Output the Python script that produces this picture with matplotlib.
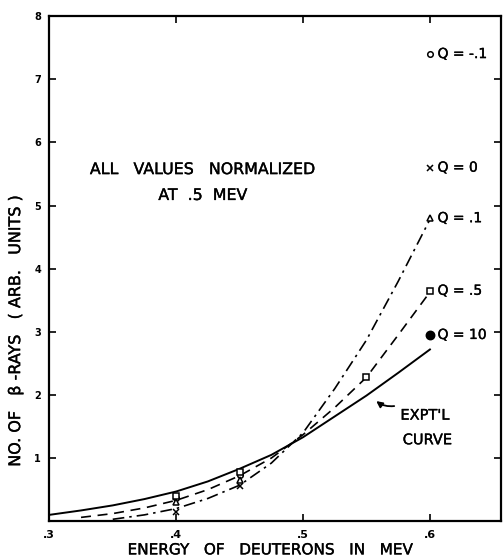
import matplotlib
matplotlib.use("Agg")
import matplotlib.pyplot as plt
import matplotlib.patheffects as pe

# energy of deuterons (MeV) and normalized beta-ray yields
expt_x = [0.30, 0.325, 0.35, 0.375, 0.40, 0.425, 0.45, 0.475, 0.50, 0.525, 0.55, 0.575, 0.60]
expt_y = [0.10, 0.17, 0.25, 0.35, 0.47, 0.63, 0.83, 1.05, 1.33, 1.66, 1.99, 2.35, 2.72]

q05_x = [0.325, 0.35, 0.375, 0.40, 0.425, 0.45, 0.475, 0.50, 0.525, 0.55, 0.575, 0.60]
q05_y = [0.06, 0.12, 0.21, 0.33, 0.50, 0.72, 1.00, 1.37, 1.80, 2.28, 2.95, 3.63]

q01_x = [0.35, 0.375, 0.40, 0.425, 0.45, 0.475, 0.50, 0.525, 0.55, 0.575, 0.60]
q01_y = [0.03, 0.10, 0.20, 0.36, 0.57, 0.92, 1.40, 2.10, 2.87, 3.80, 4.78]

# calculated points for each Q
q_labels = ["Q = -.1", "Q = 0", "Q = .1", "Q = .5", "Q = 10"]
q_markers = ["o", "x", "^", "s", "o"]
q_filled = [False, True, False, False, True]
q_at_06 = [7.40, 5.60, 4.80, 3.65, 2.95]
q_at_04 = [0.36, 0.15, 0.30, 0.40, None]
q_at_045 = [0.73, 0.55, 0.66, 0.78, None]
q05_extra_x = [0.55]
q05_extra_y = [2.28]

ink = [pe.withStroke(linewidth=0.25, foreground="black")]

fig = plt.figure(figsize=(5.03, 5.58), dpi=100)
ax = fig.add_axes([0.098, 0.066, 0.898, 0.905])

ax.plot(expt_x, expt_y, color="black", lw=1.4)
ax.plot(q05_x, q05_y, color="black", lw=1.2, dashes=(6, 4))
ax.plot(q01_x, q01_y, color="black", lw=1.2, dashes=(7, 3, 1.5, 3))

for lab, m, filled, y6, y4, y45 in zip(q_labels, q_markers, q_filled, q_at_06, q_at_04, q_at_045):
    ms = 6 if (m == "o" and filled) else 4
    fc = "black" if filled else "white"
    ax.plot([0.6], [y6], marker=m, ms=ms, mfc=fc, mec="black", mew=1.1, ls="none")
    if y4 is not None:
        ax.plot([0.4, 0.45], [y4, y45], marker=m, ms=4, mfc=fc, mec="black", mew=1.1, ls="none")
    ax.text(0.606, y6, lab, fontsize=10, va="center", ha="left", path_effects=ink)

ax.plot(q05_extra_x, q05_extra_y, marker="s", ms=4, mfc="white", mec="black", mew=1.1, ls="none")

ax.text(0.332, 5.57, "ALL   VALUES   NORMALIZED", fontsize=11.4, va="center", ha="left", path_effects=ink)
ax.text(0.421, 5.16, "AT  .5  MEV", fontsize=11.4, va="center", ha="center", path_effects=ink)
ax.text(0.596, 1.68, "EXPT'L", fontsize=10.5, va="center", ha="center", path_effects=ink)
ax.text(0.598, 1.29, "CURVE", fontsize=10.5, va="center", ha="center", path_effects=ink)
ax.annotate("", xy=(0.556, 1.93), xytext=(0.574, 1.83),
            arrowprops=dict(arrowstyle="-|>", color="black", lw=1.3,
                            mutation_scale=9, connectionstyle="arc3,rad=-0.25"))

ax.set_xlim(0.3, 0.656)
ax.set_ylim(0, 8)
ax.set_xticks([0.3, 0.4, 0.5, 0.6])
ax.set_xticklabels([".3", ".4", ".5", ".6"], fontsize=8, fontweight="bold")
ax.set_yticks([1, 2, 3, 4, 5, 6, 7, 8])
ax.set_yticklabels(["1", "2", "3", "4", "5", "6", "7", "8"], fontsize=7, fontweight="bold")
ax.tick_params(direction="in", length=5, width=1.2, top=True, right=True, pad=6)
for s in ax.spines.values():
    s.set_linewidth(1.6)

ax.set_xlabel("ENERGY   OF   DEUTERONS   IN   MEV", fontsize=11, path_effects=ink)
ax.xaxis.set_label_coords(0.489, -0.042)
ax.set_ylabel("NO. OF   β -RAYS   ( ARB.   UNITS )", fontsize=11.5, path_effects=ink)
ax.yaxis.set_label_coords(-0.058, 0.378)

fig.savefig("out.png", dpi=100)
